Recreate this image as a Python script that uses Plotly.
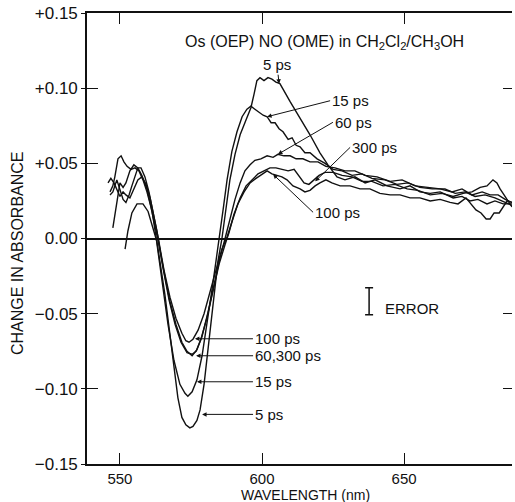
import plotly.graph_objects as go

# ---------------- data ----------------
wl_5ps = [551.8,552.8,554.2,556.0,558.1,559.9,561.6,563.0,565.8,568.3,570.4,571.8,573.2,574.6,575.7,577.1,578.2,579.6,581.0,582.7,
          584.5,585.9,587.3,588.7,590.5,592.3,594.4,596.1,597.2,598.2,599.3,600.7,602.1,603.5,604.9,606.3,609.9,613.4,616.9,620.4,
          623.2,626.4,629.2,632.7,636.3,639.8,644.0,648.6,652.1,655.6,659.2,662.7,667.3,670.4,673.2,676.0,679.2,682.0,684.9,688.0]
dA_5ps = [-0.007,0.005,0.017,0.023,0.023,0.018,0.007,-0.002,-0.037,-0.074,-0.106,-0.119,-0.124,-0.126,-0.125,-0.121,-0.114,-0.097,-0.074,-0.044,
          -0.015,0.0,0.019,0.039,0.056,0.069,0.079,0.087,0.096,0.105,0.107,0.105,0.107,0.106,0.104,0.103,0.091,0.080,0.069,0.057,
          0.049,0.041,0.039,0.041,0.037,0.039,0.035,0.033,0.035,0.031,0.030,0.031,0.027,0.028,0.025,0.026,0.023,0.025,0.023,0.023]

wl_15ps = [547.5,548.6,549.3,550.0,551.1,552.1,553.5,554.9,556.3,557.7,559.5,561.3,562.7,564.8,566.9,569.0,571.1,572.9,573.9,575.4,
           577.1,578.9,580.6,582.4,583.8,584.9,586.3,587.7,589.4,591.2,593.0,594.7,596.1,597.5,598.9,600.4,601.8,603.2,604.6,606.0,
           607.4,609.2,610.6,612.0,613.4,615.1,616.9,619.4,622.2,625.0,628.2,631.7,635.2,638.7,643.3,647.5,651.4,655.6,659.9,664.4,
           668.0,671.5,675.0,678.5,682.0,685.6,688.0]
dA_15ps = [0.007,0.019,0.029,0.037,0.034,0.037,0.045,0.049,0.047,0.042,0.033,0.018,0.001,-0.027,-0.057,-0.081,-0.097,-0.103,-0.105,-0.102,
           -0.094,-0.078,-0.058,-0.034,-0.015,-0.001,0.019,0.039,0.058,0.071,0.081,0.086,0.088,0.086,0.084,0.082,0.081,0.077,0.077,0.073,
           0.071,0.066,0.067,0.062,0.061,0.057,0.057,0.053,0.050,0.046,0.045,0.042,0.043,0.040,0.039,0.036,0.037,0.034,0.033,0.033,
           0.030,0.031,0.028,0.029,0.027,0.024,0.022]

wl_60ps = [546.5,547.5,548.2,549.3,550.4,551.4,552.5,553.9,555.3,556.7,558.1,559.5,560.9,562.3,563.4,565.5,567.6,569.7,571.8,573.6,
           575.4,577.1,578.9,581.0,583.1,585.2,587.0,588.7,590.5,592.3,594.0,595.8,597.5,599.6,601.8,603.9,605.6,607.7,609.9,612.0,
           614.4,616.9,619.7,622.5,625.7,629.2,632.7,636.3,640.5,645.1,649.3,653.9,658.5,662.7,666.9,670.4,673.9,677.5,680.3,683.1,
           685.6,688.0]
dA_60ps = [0.031,0.035,0.041,0.053,0.055,0.051,0.048,0.046,0.047,0.045,0.039,0.031,0.021,0.009,-0.001,-0.022,-0.042,-0.057,-0.069,-0.075,
           -0.078,-0.074,-0.065,-0.049,-0.031,-0.013,0.0,0.013,0.026,0.037,0.045,0.049,0.052,0.053,0.055,0.054,0.056,0.055,0.055,0.053,
           0.053,0.051,0.051,0.048,0.047,0.045,0.045,0.042,0.041,0.038,0.039,0.035,0.034,0.033,0.031,0.033,0.029,0.031,0.029,0.029,
           0.026,0.024]

wl_100ps = [545.8,546.8,547.9,548.9,550.0,551.1,552.1,553.5,554.9,556.3,557.7,559.2,560.6,562.0,563.4,565.5,567.6,569.7,571.8,573.2,
            574.3,575.7,577.5,579.6,581.7,583.8,585.9,587.7,589.4,591.5,593.7,595.8,597.9,600.0,601.8,603.5,605.3,607.0,608.8,610.9,
            613.4,615.1,616.9,618.7,620.4,622.5,624.6,627.5,631.0,634.5,638.0,641.5,645.1,648.6,652.1,655.6,659.2,662.7,666.2,669.0,
            671.8,673.6,675.3,677.1,678.9,680.3,681.7,683.5,684.9,686.3,688.0]
dA_100ps = [0.037,0.040,0.037,0.033,0.028,0.031,0.029,0.027,0.033,0.039,0.041,0.036,0.027,0.015,0.001,-0.021,-0.039,-0.053,-0.063,-0.068,
            -0.069,-0.067,-0.061,-0.050,-0.035,-0.021,-0.007,0.001,0.011,0.023,0.031,0.037,0.040,0.043,0.045,0.043,0.042,0.041,0.039,0.035,
            0.033,0.031,0.032,0.035,0.037,0.039,0.037,0.035,0.035,0.033,0.033,0.030,0.029,0.029,0.027,0.027,0.025,0.026,0.024,0.023,
            0.027,0.023,0.019,0.017,0.013,0.013,0.017,0.017,0.021,0.025,0.024]

wl_300ps = [546.5,547.5,548.9,550.0,551.1,552.1,553.2,554.2,555.3,556.3,557.4,558.8,560.2,561.6,563.0,565.1,567.3,569.4,571.5,573.6,
            575.4,576.8,578.5,580.6,582.7,584.9,587.0,588.4,590.1,592.3,594.4,596.5,598.6,600.7,602.8,604.9,607.0,609.2,611.3,613.0,
            614.8,616.5,618.3,620.1,622.2,625.0,628.2,631.7,635.2,638.7,642.6,646.8,651.1,654.9,659.2,663.4,667.3,670.8,673.9,676.8,
            679.2,681.3,682.7,683.8,685.2,686.6,688.0]
dA_300ps = [0.029,0.031,0.039,0.033,0.026,0.024,0.029,0.035,0.042,0.047,0.047,0.041,0.031,0.019,0.005,-0.019,-0.041,-0.057,-0.069,-0.076,
            -0.077,-0.075,-0.067,-0.053,-0.035,-0.017,-0.004,0.004,0.016,0.027,0.035,0.039,0.043,0.045,0.047,0.047,0.046,0.045,0.046,0.042,
            0.037,0.036,0.039,0.042,0.044,0.044,0.042,0.041,0.038,0.038,0.035,0.036,0.033,0.032,0.029,0.030,0.028,0.030,0.031,0.034,
            0.035,0.039,0.037,0.033,0.029,0.025,0.021]

# error bar
err_wl = [637.7]
err_center = [-0.0417]
err_half = [0.009]

x_tickvals = [550, 600, 650]
y_tickvals = [0.15, 0.10, 0.05, 0.0, -0.05, -0.10, -0.15]
y_ticktext = ["+0.15", "+0.10", "+0.05", "0.00", "\u22120.05", "\u22120.10", "\u22120.15"]

# label annotations: text, head wavelength, head value, ax, ay (px), xanchor
upper_labels = [
    ("5 ps",   606.0, 0.103, -2, -19, "center"),
    ("15 ps",  601.8, 0.081, 63, -16, "left"),
    ("60 ps",  605.6, 0.056, 55, -32, "left"),
    ("300 ps", 618.7, 0.038, 35, -34, "left"),
    ("100 ps", 603.9, 0.0427, 40, 38, "left"),
]
lower_labels = [
    ("100 ps",    576.4, -0.0667, 58, 0),
    ("60,300 ps", 576.8, -0.078, 57, 0),
    ("15 ps",     577.1, -0.0953, 56, 0),
    ("5 ps",      578.9, -0.117, 51, 0),
]

FONT = "Liberation Sans, Arial, sans-serif"
INK = "#111111"

fig = go.Figure()
series = [(wl_5ps, dA_5ps, "5 ps"), (wl_15ps, dA_15ps, "15 ps"), (wl_60ps, dA_60ps, "60 ps"),
          (wl_100ps, dA_100ps, "100 ps"), (wl_300ps, dA_300ps, "300 ps")]
for wl, dA, name in series:
    fig.add_trace(go.Scatter(x=wl, y=dA, mode="lines", name=name,
                             line=dict(color=INK, width=1.4), showlegend=False))

fig.add_trace(go.Scatter(x=err_wl, y=err_center, mode="markers",
                         marker=dict(size=1, color="rgba(0,0,0,0)"),
                         error_y=dict(type="data", array=err_half, visible=True,
                                      color=INK, thickness=1.5, width=4),
                         showlegend=False))

# helper traces for the extra tick axes (no data)
fig.add_trace(go.Scatter(x=[None], y=[None], yaxis="y2", showlegend=False))
fig.add_trace(go.Scatter(x=[None], y=[None], yaxis="y3", showlegend=False))

annotations = []
for text, hx, hy, ax, ay, xa in upper_labels:
    annotations.append(dict(x=hx, y=hy, xref="x", yref="y", text=text, showarrow=True,
                            ax=ax, ay=ay, xanchor=xa, arrowhead=2, arrowsize=0.9, arrowwidth=1,
                            arrowcolor=INK, font=dict(family=FONT, size=15, color=INK)))
for text, hx, hy, ax, ay in lower_labels:
    annotations.append(dict(x=hx, y=hy, xref="x", yref="y", text=text, showarrow=True,
                            ax=ax, ay=ay, xanchor="left", arrowhead=2, arrowsize=0.9, arrowwidth=1,
                            arrowcolor=INK, font=dict(family=FONT, size=15, color=INK)))

annotations.append(dict(x=642.6, y=-0.0467, xref="x", yref="y", text="ERROR", showarrow=False,
                        xanchor="left", yanchor="middle", font=dict(family=FONT, size=15, color=INK)))
annotations.append(dict(x=0.226, y=0.9335, xref="paper", yref="paper",
                        text="Os (OEP) NO (OME) in CH<sub>2</sub>Cl<sub>2</sub>/CH<sub>3</sub>OH",
                        showarrow=False, xanchor="left", yanchor="middle",
                        font=dict(family=FONT, size=16, color=INK)))
annotations.append(dict(x=0.515, y=-0.069, xref="paper", yref="paper", text="WAVELENGTH (nm)",
                        showarrow=False, xanchor="center", yanchor="middle",
                        font=dict(family=FONT, size=14, color=INK)))
annotations.append(dict(x=-0.162, y=0.468, xref="paper", yref="paper", text="CHANGE IN ABSORBANCE",
                        showarrow=False, textangle=-90, xanchor="center", yanchor="middle",
                        font=dict(family=FONT, size=16, color=INK)))

fig.update_layout(
    width=515, height=502,
    margin=dict(l=87, r=3, t=13, b=38),
    paper_bgcolor="white", plot_bgcolor="white",
    font=dict(family=FONT, size=16, color=INK),
    annotations=annotations,
    xaxis=dict(range=[538.4, 688.0], tickvals=x_tickvals, ticks="inside", ticklen=11,
               tickwidth=1.3, tickcolor=INK, showline=True, linecolor=INK, linewidth=1.6,
               mirror="ticks", showgrid=False, zeroline=False, ticklabelstandoff=0,
               tickfont=dict(family=FONT, size=15, color=INK)),
    yaxis=dict(range=[-0.15, 0.15], tickvals=y_tickvals, ticktext=y_ticktext, ticks="inside",
               ticklen=11, tickwidth=1.3, tickcolor=INK, showline=True, linecolor=INK,
               linewidth=1.6, showgrid=False, zeroline=True, zerolinecolor=INK, zerolinewidth=1.5,
               ticklabelstandoff=4, tickfont=dict(family=FONT, size=17, color=INK)),
    yaxis2=dict(range=[-0.15, 0.15], overlaying="y", side="right", anchor="x",
                tickvals=[0.10, 0.05, -0.05, -0.10], ticks="inside", ticklen=9, tickwidth=1.3,
                tickcolor=INK, showticklabels=False, showline=False, showgrid=False, zeroline=False),
    yaxis3=dict(range=[-0.15, 0.15], overlaying="y", side="left", anchor="x",
                tickvals=y_tickvals, ticks="outside", ticklen=5, tickwidth=1.3,
                tickcolor=INK, showticklabels=False, showline=False, showgrid=False, zeroline=False),
)

fig.write_html("out.html")
